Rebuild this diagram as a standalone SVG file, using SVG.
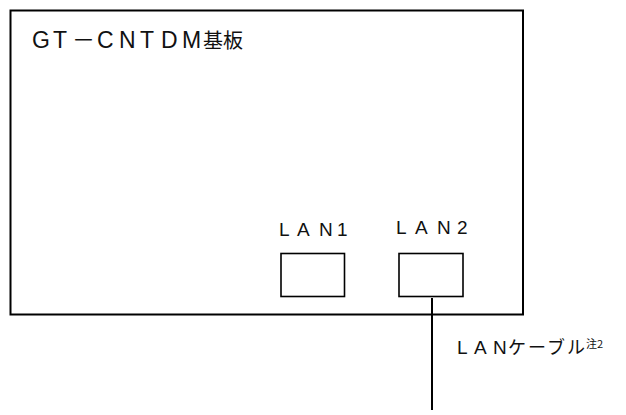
<svg xmlns="http://www.w3.org/2000/svg" width="626" height="415" viewBox="0 0 626 415">
<style>
.ln{fill:none;stroke:#000;stroke-width:2}
.bx{fill:#fff;stroke:#000;stroke-width:1.6}
.t{font-family:"Liberation Sans","Noto Sans CJK JP",sans-serif;fill:#111}
.j{font-family:"Noto Sans CJK JP",sans-serif}
</style>
<rect width="626" height="415" fill="#fff"/>
<g id="board">
<rect class="ln" x="10.5" y="10.5" width="512.5" height="304"/>
<text class="t" y="48" font-size="23"><tspan x="32 53">GT</tspan><tspan class="j" x="72">－</tspan><tspan x="97 119 140 161 182">CNTDM</tspan><tspan class="j" x="203 223" font-size="20">基板</tspan></text>
</g>
<g id="lan1">
<rect class="bx" x="281" y="253.5" width="63.5" height="43"/>
<text class="t" x="279 297 319 337" y="236" font-size="19">LAN1</text>
</g>
<g id="lan2">
<rect class="bx" x="399" y="253.5" width="64" height="43"/>
<text class="t" x="396 415 437 457" y="234" font-size="19">LAN2</text>
</g>
<g id="connectors">
<line class="ln" x1="432" y1="298" x2="432" y2="410"/>
</g>
<g id="cable-label">
<text class="t" y="354" font-size="19"><tspan x="457 474 493">LAN</tspan><tspan class="j" x="508 528 547 567" font-size="18">ケーブル</tspan></text>
<text class="t j" x="586" y="348" font-size="11">注2</text>
</g>
</svg>
